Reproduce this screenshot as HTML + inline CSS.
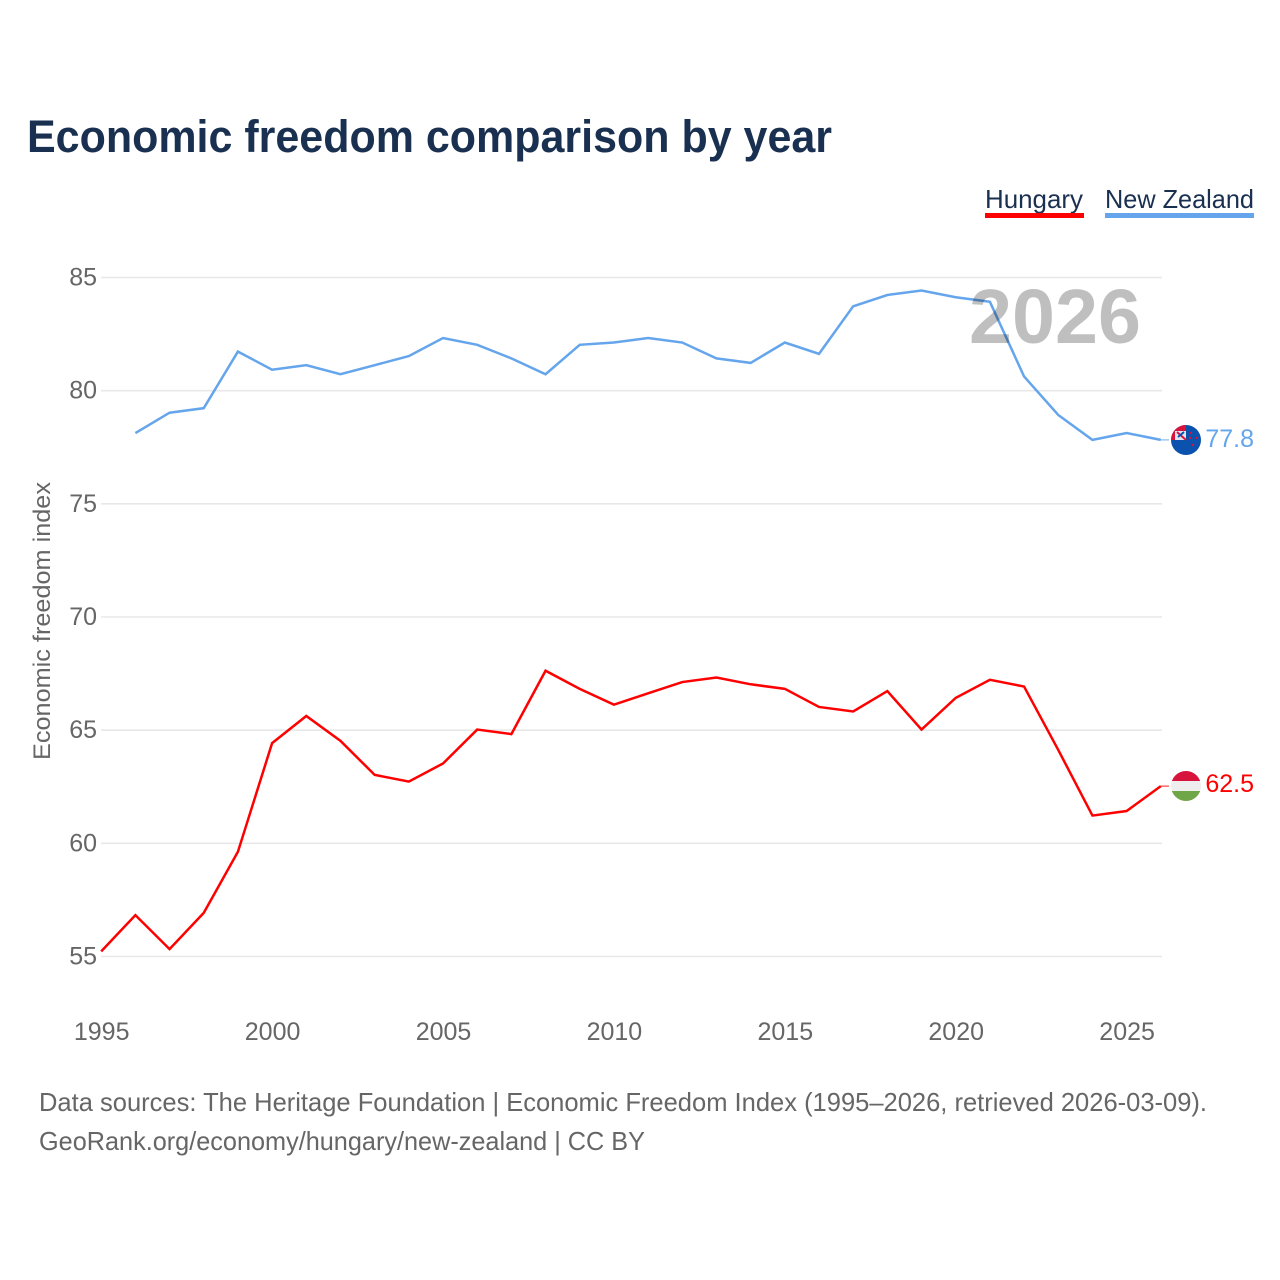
<!DOCTYPE html>
<html>
<head>
<meta charset="utf-8">
<style>
html,body{margin:0;padding:0;background:#fff;}
svg{display:block;font-family:"Liberation Sans",sans-serif;}
</style>
</head>
<body>
<svg id="chart" width="1280" height="1280" viewBox="0 0 1280 1280" xmlns="http://www.w3.org/2000/svg">
  <rect width="1280" height="1280" fill="#fff"/>
  <text x="27" y="152" font-size="45" font-weight="700" fill="#1a3050" textLength="805" lengthAdjust="spacingAndGlyphs">Economic freedom comparison by year</text>
  <g id="grid"></g>
  <g id="series"></g>
  <text x="969" y="343" font-size="77" font-weight="700" fill="#000" fill-opacity="0.25" textLength="172" lengthAdjust="spacingAndGlyphs">2026</text>
  <g>
    <text x="985" y="208" font-size="26" fill="#1a3050" textLength="98" lengthAdjust="spacingAndGlyphs">Hungary</text>
    <rect x="985" y="213" width="99" height="5" fill="#ff0000"/>
  </g>
  <g>
    <text x="1105" y="208" font-size="26" fill="#1a3050" textLength="149" lengthAdjust="spacingAndGlyphs">New Zealand</text>
    <rect x="1105" y="213" width="149" height="5" fill="#64a5ec"/>
  </g>
  <text transform="translate(50,621) rotate(-90)" text-anchor="middle" font-size="24" fill="#666" textLength="278" lengthAdjust="spacingAndGlyphs">Economic freedom index</text>
  <text x="39" y="1111" font-size="26" fill="#666" textLength="1168" lengthAdjust="spacingAndGlyphs">Data sources: The Heritage Foundation | Economic Freedom Index (1995–2026, retrieved 2026-03-09).</text>
  <text x="39" y="1150" font-size="26" fill="#666" textLength="606" lengthAdjust="spacingAndGlyphs">GeoRank.org/economy/hungary/new-zealand | CC BY</text>
  <defs>
    <clipPath id="flag-clip-hu"><circle cx="1186" cy="786" r="15"/></clipPath>
    <clipPath id="flag-clip-nz"><circle cx="1186" cy="440" r="15"/></clipPath>
  </defs>
  <g id="flags"></g>
</svg>
<script>
var years = [1995,1996,1997,1998,1999,2000,2001,2002,2003,2004,2005,2006,2007,2008,2009,2010,2011,2012,2013,2014,2015,2016,2017,2018,2019,2020,2021,2022,2023,2024,2025,2026];
var hungaryValues = [55.2,56.8,55.3,56.9,59.6,64.4,65.6,64.5,63.0,62.7,63.5,65.0,64.8,67.6,66.8,66.1,66.6,67.1,67.3,67.0,66.8,66.0,65.8,66.7,65.0,66.4,67.2,66.9,64.1,61.2,61.4,62.5];
var newZealandValues = [null,78.1,79.0,79.2,81.7,80.9,81.1,80.7,81.1,81.5,82.3,82.0,81.4,80.7,82.0,82.1,82.3,82.1,81.4,81.2,82.1,81.6,83.7,84.2,84.4,84.1,83.9,80.6,78.9,77.8,78.1,77.8];
var yTicks = [55,60,65,70,75,80,85];
var xTicks = [1995,2000,2005,2010,2015,2020,2025];

var NS = 'http://www.w3.org/2000/svg';
function xScale(year){ return 101.2 + (year - 1995) * (1160.8 - 101.2) / 31; }
function yScale(value){ return 956.5 - (value - 55) * (956.5 - 277.5) / 30; }
function make(tag, parent){
  var el = document.createElementNS(NS, tag);
  parent.appendChild(el);
  return el;
}
var grid = document.getElementById('grid');
yTicks.forEach(function(t){
  var line = make('line', grid);
  
  
  line.setAttribute('x1', 101);
  line.setAttribute('x2', 1162);
  line.setAttribute('y1', yScale(t));
  line.setAttribute('y2', yScale(t));
  line.setAttribute('stroke', '#e8e8e8');
  line.setAttribute('stroke-width', '1.6');
  var label = make('text', grid);
  
  
  label.setAttribute('x', 97);
  label.setAttribute('y', yScale(t) + 8);
  label.setAttribute('text-anchor', 'end');
  label.setAttribute('font-size', '25');
  label.setAttribute('fill', '#666');
  label.textContent = String(t);
});
xTicks.forEach(function(t){
  var label = make('text', grid);
  
  
  label.setAttribute('x', xScale(t) + 0.5);
  label.setAttribute('y', 1040);
  label.setAttribute('text-anchor', 'middle');
  label.setAttribute('font-size', '25');
  label.setAttribute('fill', '#666');
  label.textContent = String(t);
});

var seriesGroup = document.getElementById('series');
seriesGroup.setAttribute('transform', 'translate(0,-0.6)');
function buildPoints(values){
  var pts = [];
  values.forEach(function(v, i){
    if (v !== null) pts.push(xScale(years[i]).toFixed(2) + ',' + yScale(v).toFixed(2));
  });
  return pts.join(' ');
}
function lastOf(values){ return values[values.length - 1]; }

var hungaryLine = make('polyline', seriesGroup);


hungaryLine.setAttribute('points', buildPoints(hungaryValues));
hungaryLine.setAttribute('fill', 'none');
hungaryLine.setAttribute('stroke', '#ff0000');
hungaryLine.setAttribute('stroke-width', '2.5');

var nzLine = make('polyline', seriesGroup);


nzLine.setAttribute('points', buildPoints(newZealandValues));
nzLine.setAttribute('fill', 'none');
nzLine.setAttribute('stroke', '#64a5ec');
nzLine.setAttribute('stroke-width', '2.5');

var hungaryLeader = make('line', seriesGroup);


hungaryLeader.setAttribute('x1', xScale(2026));
hungaryLeader.setAttribute('x2', 1169);
hungaryLeader.setAttribute('y1', yScale(lastOf(hungaryValues)));
hungaryLeader.setAttribute('y2', yScale(lastOf(hungaryValues)));
hungaryLeader.setAttribute('stroke', '#ff0000');
hungaryLeader.setAttribute('stroke-opacity', '0.6');
hungaryLeader.setAttribute('stroke-width', '1.5');

var nzLeader = make('line', seriesGroup);


nzLeader.setAttribute('x1', xScale(2026));
nzLeader.setAttribute('x2', 1169);
nzLeader.setAttribute('y1', yScale(lastOf(newZealandValues)));
nzLeader.setAttribute('y2', yScale(lastOf(newZealandValues)));
nzLeader.setAttribute('stroke', '#64a5ec');
nzLeader.setAttribute('stroke-opacity', '0.6');
nzLeader.setAttribute('stroke-width', '1.5');

var hungaryEnd = make('text', seriesGroup);


hungaryEnd.setAttribute('x', 1254);
hungaryEnd.setAttribute('y', yScale(lastOf(hungaryValues)) + 6);
hungaryEnd.setAttribute('text-anchor', 'end');
hungaryEnd.setAttribute('font-size', '25');
hungaryEnd.setAttribute('fill', '#ff0000');
hungaryEnd.textContent = lastOf(hungaryValues).toFixed(1);

var nzEnd = make('text', seriesGroup);


nzEnd.setAttribute('x', 1254);
nzEnd.setAttribute('y', yScale(lastOf(newZealandValues)) + 7);
nzEnd.setAttribute('text-anchor', 'end');
nzEnd.setAttribute('font-size', '25');
nzEnd.setAttribute('fill', '#64a5ec');
nzEnd.textContent = lastOf(newZealandValues).toFixed(1);

document.getElementById('flags').innerHTML =
  '<g clip-path="url(#flag-clip-hu)">' +
    '<rect x="1171" y="771" width="30" height="10" fill="#d7143c"/>' +
    '<rect x="1171" y="781" width="30" height="10" fill="#eeeeee"/>' +
    '<rect x="1171" y="791" width="30" height="10" fill="#6fa647"/>' +
  '</g>' +
  '<g clip-path="url(#flag-clip-nz)">' +
    '<rect x="1171" y="425" width="30" height="30" fill="#0a52ad"/>' +
    '<rect x="1171" y="425" width="15" height="15" fill="#d7143c"/>' +
    '<rect x="1175" y="431" width="11" height="9" fill="#dfe6f3"/>' +
    '<path d="M1177 432L1186 440" stroke="#d7143c" stroke-width="2"/>' +
    '<path d="M1178 437L1184 432" stroke="#0a52ad" stroke-width="2"/>' +
    '<circle cx="1191" cy="433" r="1.2" fill="#d7143c"/>' +
    '<circle cx="1197" cy="438" r="1.2" fill="#d7143c"/>' +
    '<circle cx="1190" cy="438" r="1.2" fill="#d7143c"/>' +
    '<circle cx="1193" cy="445" r="1.2" fill="#d7143c"/>' +
  '</g>';
</script>
</body>
</html>
